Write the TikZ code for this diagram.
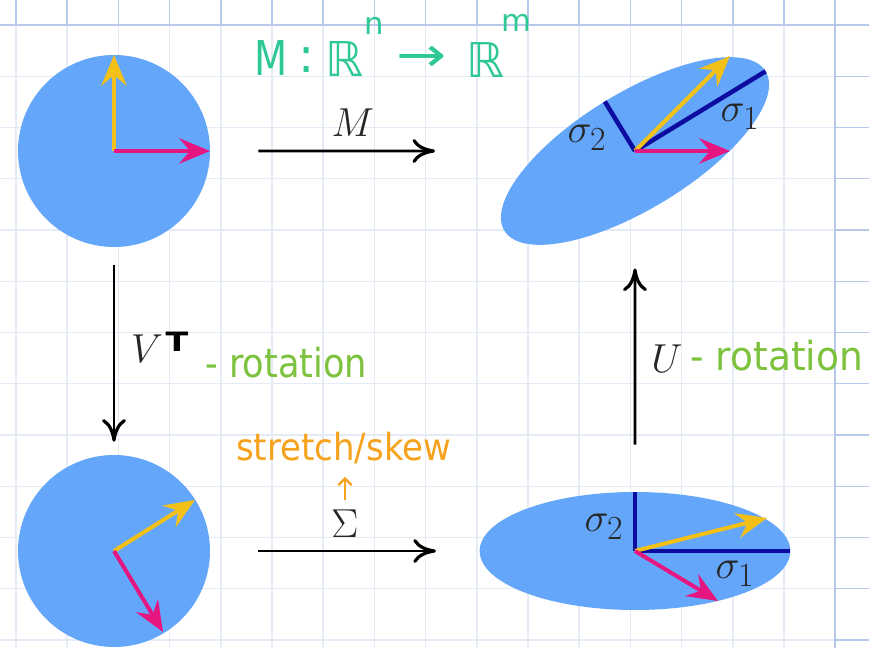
\documentclass[tikz,border=0pt]{standalone}
\usepackage{fontspec}
\usetikzlibrary{arrows.meta,shapes.geometric}
\newfontfamily\handfont{DejaVu Sans}
\definecolor{ellblue}{RGB}{100,167,250}
\definecolor{vyel}{RGB}{242,192,22}
\definecolor{vpink}{RGB}{230,22,128}
\definecolor{navy}{RGB}{12,12,160}
\definecolor{gridlight}{RGB}{228,234,246}
\definecolor{griddark}{RGB}{184,200,234}
\definecolor{hteal}{RGB}{46,200,150}
\definecolor{hgreen}{RGB}{124,194,60}
\definecolor{horange}{RGB}{246,162,28}
\begin{document}
\begin{tikzpicture}[x=0.75pt,y=-0.75pt,
  lightline/.style={draw=gridlight,line width=1.1pt},
  darkline/.style={draw=griddark,line width=1.1pt},
  blob/.style={fill=ellblue,draw=none,inner sep=0pt},
  vec/.style={line width=3pt,-{Stealth[length=23pt,width=19pt,inset=8pt]}},
  yvec/.style={vec,draw=vyel,fill=vyel},
  pvec/.style={vec,draw=vpink,fill=vpink},
  axisline/.style={draw=navy,line width=3.4pt},
  map/.style={draw=black,line width=2.2pt,-{Computer Modern Rightarrow[length=17pt,width=18pt,line width=2.4pt]}},
  lab/.style={font=\Huge,text=black!85,inner sep=0pt,scale=1.22},
  hand/.style={font=\handfont,inner sep=0pt}]
\useasboundingbox (0,0) rectangle (869,648);
\fill[white] (0,0) rectangle (869,648);
% grid inside the page
\foreach \i in {0,...,16} \draw[lightline] ({16+51.2*\i},25) -- ({16+51.2*\i},648);
\foreach \j in {1,...,12} \draw[lightline] (0,{25+51.25*\j}) -- (835,{25+51.25*\j});
% grid outside the page
\foreach \i in {0,...,16} \draw[darkline] ({16+51.2*\i},0) -- ({16+51.2*\i},25);
\foreach \j in {1,...,12} \draw[darkline] (835,{25+51.25*\j}) -- (869,{25+51.25*\j});
\draw[darkline] (0,25) -- (869,25);
\draw[darkline] (835,0) -- (835,648);

% shapes
\node[blob,circle,minimum size=144pt] (c1) at (114,151) {};
\node[blob,circle,minimum size=144pt] (c2) at (114,551) {};
\node[blob,ellipse,minimum width=229.5pt,minimum height=87pt,rotate=31.4] (e1) at (635,151) {};
\node[blob,ellipse,minimum width=233pt,minimum height=88.5pt] (e2) at (635,551) {};

% top-left vectors
\draw[yvec] (c1.center) -- ++(0,-96);
\draw[pvec] (c1.center) -- ++(96,0);
% bottom-left vectors
\draw[yvec] (c2.center) -- ++(81,-51);
\draw[pvec] (c2.center) -- ++(49,81);
% top-right axes and vectors
\draw[axisline] (e1.center) -- ++(130.6,-79.7);
\draw[axisline] (e1.center) -- ++(-30.2,-49.5);
\draw[yvec] (e1.center) -- ++(95,-95);
\draw[pvec] (e1.center) -- ++(95,0);
% bottom-right axes and vectors
\draw[axisline] (e2.center) -- ++(155,0);
\draw[axisline] (e2.center) -- ++(0,-59);
\draw[yvec] (e2.center) -- ++(132,-33);
\draw[pvec] (e2.center) -- ++(83,50);

% sigma labels
\node[lab] (s2a) at (587,138) {$\sigma_2$};
\node[lab] (s1a) at (740,117) {$\sigma_1$};
\node[lab] (s2b) at (604,527) {$\sigma_2$};
\node[lab] (s1b) at (735,574) {$\sigma_1$};

% maps
\draw[map,shorten <=36pt,shorten >=78.75pt] (c1) -- (e1);
\draw[map,shorten <=36pt,shorten >=32.6pt] (c2) -- (e2);
\draw[map,shorten <=13.5pt,shorten >=9.75pt] (c1) -- (c2);
\draw[map,shorten <=35.25pt,shorten >=38.25pt] (e2) -- (e1);

\node[lab] (lM) at (353,123) {$M$};
\node[lab] (lS) at (345,524) {$\Sigma$};
\node[lab] (lV) at (147,349) {$V$};
\node[lab] (lU) at (667,359) {$U$};

% handwritten notes
\node[hand,text=black,font=\handfont\bfseries\fontsize{20}{24}\selectfont,xscale=1.25] (hT) at (177,342) {T};
\node[hand,text=hgreen,font=\handfont\fontsize{30}{34}\selectfont,anchor=base west,xscale=0.88] (rotV) at (205,378) {- rotation};
\node[hand,text=hgreen,font=\handfont\fontsize{30}{34}\selectfont,anchor=base west,xscale=0.94] (rotU) at (690,371) {- rotation};
\node[hand,text=horange,font=\handfont\fontsize{28}{32}\selectfont,anchor=base west,xscale=0.91] (skew) at (236,461) {stretch/skew};
\coordinate (skA) at (345,500);
\coordinate (skB) at (345,477);
\draw[draw=horange,line width=1.6pt,-{Straight Barb[length=5pt,width=10pt]}] (skA) -- (skB);

\node[hand,text=hteal,font=\handfont\fontsize{36}{40}\selectfont,xscale=0.8] (tM) at (271.5,58) {M};
\node[hand,text=hteal,font=\handfont\fontsize{36}{40}\selectfont] (tc) at (307,60) {:};
\node[hand,text=hteal,font=\handfont\fontsize{36}{40}\selectfont] (tR1) at (345,59) {ℝ};
\node[hand,text=hteal,font=\handfont\fontsize{23}{26}\selectfont] (tn) at (374,26) {n};
\node[hand,text=hteal,font=\handfont\fontsize{36}{40}\selectfont,xscale=1.25] (tar) at (422,59) {→};
\node[hand,text=hteal,font=\handfont\fontsize{36}{40}\selectfont] (tR2) at (486,60) {ℝ};
\node[hand,text=hteal,font=\handfont\fontsize{23}{26}\selectfont] (tm) at (516,23) {m};
\end{tikzpicture}
\end{document}
